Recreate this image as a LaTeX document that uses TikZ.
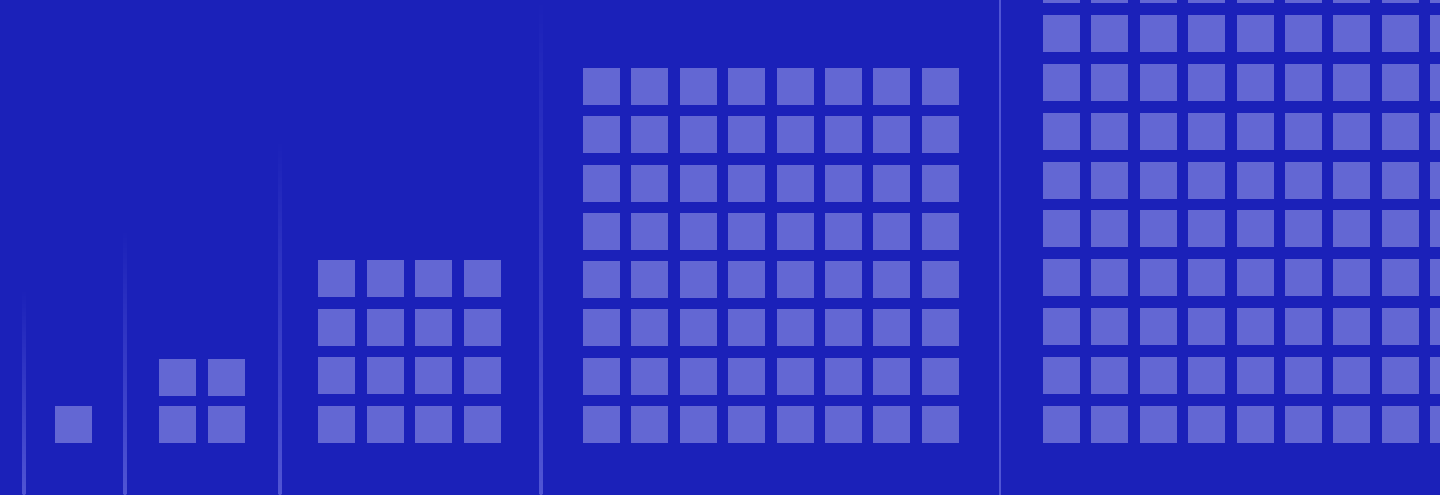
\documentclass[tikz,border=0pt]{standalone}
\usepackage{tikz}
\definecolor{bgblue}{RGB}{27,33,185}
\definecolor{cellblue}{RGB}{99,103,211}
\definecolor{ruleblue}{RGB}{80,85,212}

\begin{document}
\begin{tikzpicture}[x=1pt,y=-1pt,
  cell/.style={fill=cellblue},
  divider/.style={top color=bgblue,bottom color=ruleblue}]
\fill[bgblue] (0,0) rectangle (1440,495);
\useasboundingbox (0,0) rectangle (1440,495);
\clip (0,0) rectangle (1440,495);
% dividers, fading in towards the bottom
\foreach \lx/\ly in {24/290,125/230,280/140,541/0}
  \shade[divider] (\lx-1.3,\ly) rectangle (\lx+1.3,495);
\fill[ruleblue] (998.7,0) rectangle (1001.3,495);
% square blocks: 1, 2x2, 4x4, 8x8, 16x16 (column pitch / row pitch)
\foreach \gx/\n/\px/\py in {55/1/48.5/48.5,159/2/49/47,318/4/48.5/48.7,583/8/48.4/48.3,1043/16/48.4/48.9}
  \foreach \i in {1,...,\n}
    \foreach \j in {1,...,\n}
      \fill[cell] (\gx+\px*\i-\px,406-\py*\j+\py) rectangle ++(37,37);
\end{tikzpicture}
\end{document}
